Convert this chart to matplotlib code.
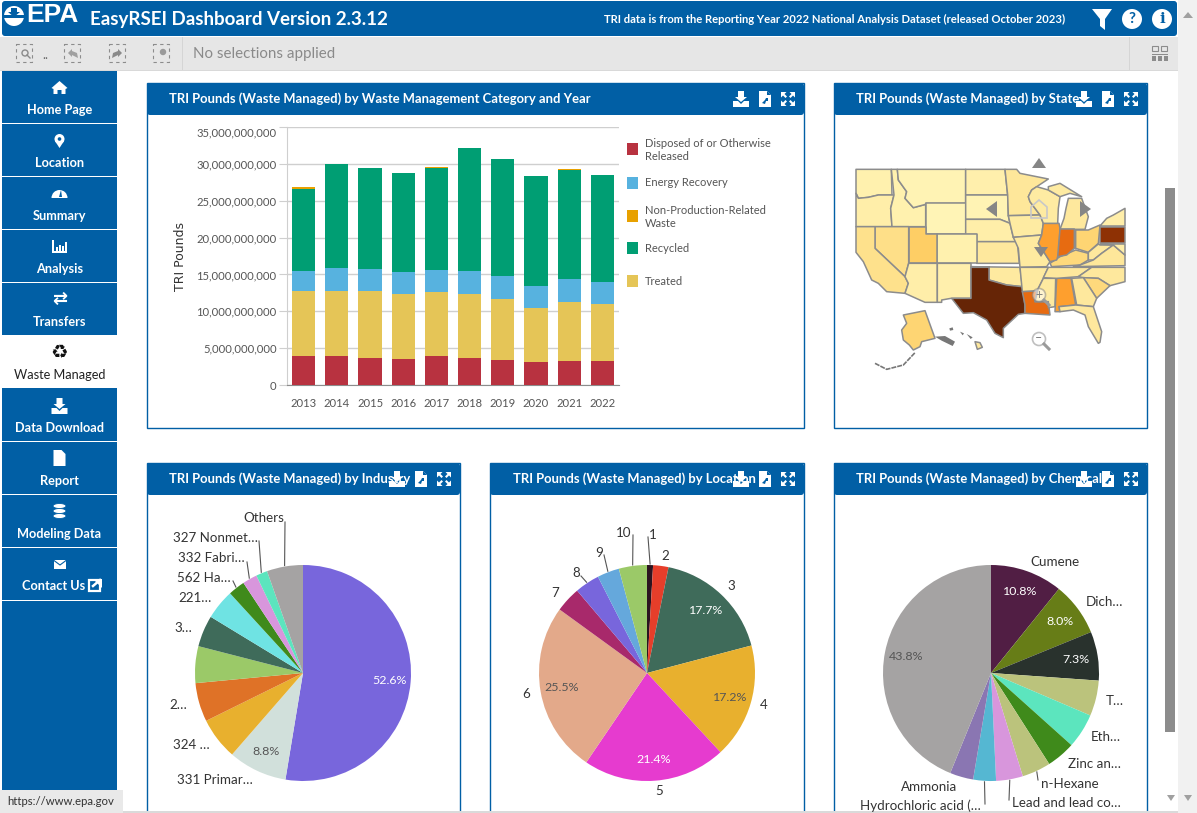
import numpy as np
import matplotlib
matplotlib.use("Agg")
import matplotlib.pyplot as plt
from matplotlib.patches import Rectangle, Polygon, Circle, FancyBboxPatch, Ellipse, Wedge
from matplotlib.colors import Normalize
from matplotlib.ticker import FuncFormatter
from matplotlib.transforms import ScaledTranslation

plt.rcParams['font.family'] = ['Lato', 'DejaVu Sans']

# ---------- data ----------
years = [2013, 2014, 2015, 2016, 2017, 2018, 2019, 2020, 2021, 2022]
disposed = [3.96, 3.96, 3.65, 3.56, 3.92, 3.69, 3.33, 3.06, 3.20, 3.24]
treated = [8.84, 8.74, 9.15, 8.78, 8.74, 8.70, 8.38, 7.44, 8.10, 7.80]
energy = [2.70, 3.16, 2.97, 2.96, 2.97, 3.11, 3.06, 2.92, 3.07, 2.96]
recycled = [11.10, 14.10, 13.63, 13.50, 13.83, 16.60, 15.83, 14.98, 14.83, 14.50]
nonprod = [0.25, 0.02, 0.02, 0.02, 0.08, 0.02, 0.06, 0.02, 0.06, 0.03]
bar_names = ["Disposed of or Otherwise\nReleased", "Energy Recovery",
             "Non-Production-Related\nWaste", "Recycled", "Treated"]

industry_values = [52.6, 8.8, 6.3, 5.8, 5.5, 4.7, 4.5, 2.5, 2.2, 1.7, 5.4]
location_values = [0.9, 2.3, 17.7, 17.2, 21.4, 25.5, 3.8, 3.7, 3.3, 4.2]
chemical_values = [10.8, 8.0, 7.3, 5.3, 5.2, 4.3, 4.3, 4.0, 3.4, 3.5, 43.8]

industry_labels = ["331 Primar…", "324 …", "2…", "3…", "221…", "562 Ha…",
                   "332 Fabri…", "327 Nonmet…", "Others"]
location_labels = ["1", "2", "3", "4", "5", "6", "7", "8", "9", "10"]
chemical_labels = ["Cumene", "Dich…", "T…", "Eth…", "Zinc an…", "n-Hexane",
                   "Lead and lead co…", "Hydrochloric acid (…", "Ammonia"]

# relative TRI pounds by state (billions, estimated from the shading)
state_pounds = {
    "WA": 1.0, "OR": 1.1, "ID": 1.0, "MT": .9, "WY": .85, "ND": 1.05, "SD": .9, "NE": 1.1, "KS": 1.3,
    "CO": 1.0, "UT": 2.0, "NV": 1.6, "CA": 1.55, "AZ": 1.1, "NM": 1.05, "OK": 1.25, "TX": 6.0, "MN": 1.35,
    "IA": 1.2, "MO": 1.25, "AR": 1.25, "LA": 3.85, "MS": 1.25, "AL": 2.9, "TN": 1.3, "KY": 1.75, "IL": 2.9,
    "WI": 1.2, "MI": 1.3, "MIU": 1.2, "IN": 3.85, "OH": 1.85, "PA": 5.4, "NY": 1.1, "WV": 1.3, "VA": 1.35,
    "NC": 1.3, "SC": 1.75, "GA": 1.3, "FL": 1.3, "MD": 1.1, "AK": 1.85, "HI": 1.3,
}

# simplified state outlines, in map units
state_shapes = {
    "WA": [(48,58),(154,58),(156,135),(115,135),(85,142),(55,145),(48,130)],
    "OR": [(48,130),(55,145),(85,142),(115,135),(162,135),(152,175),(156,230),(48,230)],
    "ID": [(154,58),(172,58),(175,90),(200,125),(195,145),(220,173),(257,163),(257,230),(156,230),(152,175),(162,135)],
    "MT": [(172,58),(377,58),(377,160),(257,160),(257,163),(220,173),(195,145),(200,125),(175,90)],
    "WY": [(257,160),(377,160),(377,253),(257,253)],
    "ND": [(377,58),(495,58),(503,135),(377,135)],
    "SD": [(377,135),(503,135),(505,197),(510,220),(480,208),(377,208)],
    "NE": [(377,208),(480,208),(510,220),(520,262),(532,275),(410,275),(410,253),(377,253)],
    "KS": [(410,275),(532,275),(538,340),(410,340)],
    "CO": [(292,253),(410,253),(410,340),(292,340)],
    "UT": [(206,230),(257,230),(257,253),(292,253),(292,340),(206,340)],
    "NV": [(105,230),(206,230),(206,340),(195,380),(105,295)],
    "CA": [(48,230),(105,230),(105,295),(195,380),(205,400),(195,430),(140,425),(115,400),(95,390),(70,335),(48,307)],
    "AZ": [(206,340),(292,340),(292,457),(255,457),(195,430),(205,400),(195,380)],
    "NM": [(292,340),(393,340),(393,445),(333,445),(305,450),(305,457),(292,457)],
    "OK": [(393,350),(540,352),(547,410),(500,405),(447,390),(447,352)],
    "TX": [(393,352),(447,352),(447,390),(500,405),(547,410),(555,465),(555,490),(535,493),(490,535),(490,563),
           (465,550),(440,510),(400,488),(370,490),(335,445),(393,445)],
    "MN": [(495,58),(530,58),(540,70),(625,87),(575,120),(565,140),(570,155),(600,195),(505,197),(503,135)],
    "IA": [(505,197),(600,195),(610,220),(605,255),(520,262),(510,220)],
    "MO": [(520,262),(605,255),(595,280),(630,335),(620,350),(540,352),(535,295)],
    "AR": [(540,352),(625,352),(610,385),(595,415),(590,423),(547,425)],
    "LA": [(547,425),(590,423),(585,455),(625,455),(630,495),(600,493),(555,490),(555,465)],
    "MS": [(610,385),(647,385),(645,470),(625,473),(625,455),(585,455),(595,415)],
    "AL": [(650,385),(693,385),(707,465),(657,470),(660,485),(645,485)],
    "TN": [(610,383),(625,352),(755,352),(715,380),(650,385)],
    "KY": [(630,340),(660,320),(707,300),(745,310),(745,330),(720,345),(635,350)],
    "IL": [(610,220),(657,220),(660,235),(657,307),(650,330),(630,335),(595,280),(605,255)],
    "WI": [(575,120),(590,110),(625,120),(660,140),(655,175),(653,220),(610,220),(600,195),(570,155),(565,140)],
    "MI": [(685,145),(725,145),(745,200),(735,238),(660,238),(672,205),(678,175)],
    "MIU": [(625,110),(660,100),(725,140),(690,130),(660,140),(625,120)],
    "IN": [(660,237),(703,237),(703,295),(680,315),(653,320)],
    "OH": [(707,240),(745,240),(780,225),(775,280),(745,307),(707,295)],
    "NY": [(780,228),(800,205),(820,195),(855,175),(855,228)],
    "PA": [(780,230),(855,230),(855,280),(780,280)],
    "WV": [(745,307),(775,282),(780,285),(820,285),(785,310),(760,330),(745,330)],
    "VA": [(720,345),(760,330),(785,310),(820,285),(855,315),(855,347),(700,350)],
    "MD": [(780,282),(855,282),(855,315),(820,285)],
    "NC": [(755,352),(855,352),(855,395),(810,407),(775,385),(730,383),(715,380)],
    "SC": [(730,383),(775,385),(810,407),(770,445)],
    "GA": [(695,385),(730,383),(770,445),(760,470),(710,465)],
    "FL": [(657,470),(707,465),(760,470),(785,545),(780,577),(775,580),(745,530),(735,495),(700,480),(660,485)],
    "AK": [(190,495),(255,482),(285,565),(245,575),(240,590),(220,600),(208,585),(190,570),(185,540),(200,520)],
    "HI": [(405,575),(420,578),(427,592),(412,598)],
}

# ---------- styles ----------
W, H = 1197, 813
BLUE = "#015FA5"
TEXT = "#555555"
DARK = "#333333"
bar_colors = ["#B83240", "#57B2DF", "#E8A100", "#009E73", "#E5C557"]
industry_colors = ["#7866DC", "#D1E0DB", "#E8B02E", "#DF7227", "#9BC968", "#3F6B5A",
                   "#6FE3E3", "#3F8A1B", "#D896DC", "#5CE5BE", "#A5A3A3"]
location_colors = ["#2B1420", "#E63E2A", "#3F6B5A", "#E8B02E", "#E63BCF",
                   "#E3A98A", "#A8296B", "#7866DC", "#65A8DC", "#9BC968"]
chemical_colors = ["#511E44", "#677D17", "#29322D", "#BBC37C", "#5CE5BE", "#3F8A1B",
                   "#BBC37C", "#D896DC", "#55B7D2", "#8A76B2", "#A5A3A3"]

fig = plt.figure(figsize=(W / 100, H / 100), dpi=100, facecolor="white")


def px_axes(x0, y0, x1, y1, z=1):
    return fig.add_axes([x0 / W, 1 - y1 / H, (x1 - x0) / W, (y1 - y0) / H], zorder=z)


ui = px_axes(0, 0, W, H, 0)
top = px_axes(0, 0, W, H, 10)
for a in (ui, top):
    a.set_xlim(0, W)
    a.set_ylim(H, 0)
    a.axis("off")
    a.patch.set_alpha(0)


def rect(a, x0, y0, x1, y1, c, **k):
    a.add_patch(Rectangle((x0, y0), x1 - x0, y1 - y0, fc=c, ec="none", **k))


def poly(a, pts, c, **k):
    a.add_patch(Polygon(pts, closed=True, fc=c, ec="none", **k))


def shift(pts, x, y, s=1.0):
    return [(x + s * p[0], y + s * p[1]) for p in pts]


# ---------- page chrome ----------
rect(ui, 1178, 0, W, H, "#F1F1F1")
rect(ui, 0, 37, 1178, 70, "#E6E6E6")
rect(ui, 0, 70, 1178, 71, "#D9D9D9")
ui.add_patch(FancyBboxPatch((2, 1), 1175, 35, boxstyle="round,pad=0,rounding_size=3", fc=BLUE, ec="none"))
rect(ui, 182, 37, 183, 70, "#D5D5D5")
rect(ui, 1129, 37, 1130, 70, "#D5D5D5")
ui.text(90, 20, "EasyRSEI Dashboard Version 2.3.12", color="white", fontsize=13.5, weight="bold", va="center")
ui.text(604, 19, "TRI data is from the Reporting Year 2022 National Analysis Dataset (released October 2023)",
        color="white", fontsize=8.13, weight="bold", va="center")
ui.text(193, 54, "No selections applied", color="#8A8A8A", fontsize=10.9, va="center")

# EPA logo
ui.text(26, 15, "EPA", color="white", fontsize=19, weight="bold", va="center",
        family=["Liberation Sans Narrow", "Liberation Sans"])
ui.add_patch(Circle((14, 16), 10, fc="white", ec="none"))
poly(ui, [(4, 15), (24, 15), (24, 18), (4, 18)], BLUE)
poly(ui, [(11, 8), (17, 8), (17, 12), (20, 12), (14, 17), (8, 12), (11, 12)], BLUE)

# header right icons
poly(ui, [(1092, 9), (1112, 9), (1105, 19), (1105, 30), (1100, 26), (1100, 19)], "white")
ui.add_patch(Circle((1132, 19), 10, fc="white", ec="none"))
ui.text(1132, 19, "?", color=BLUE, fontsize=11, weight="bold", ha="center", va="center")
ui.add_patch(Circle((1162, 19), 10, fc="white", ec="none"))
ui.text(1162, 19, "i", color=BLUE, fontsize=11, weight="bold", ha="center", va="center", family="DejaVu Serif")
poly(ui, [(1188, 12), (1193, 18), (1183, 18)], "#A0A0A0")
poly(ui, [(1184, 795), (1192, 795), (1188, 801)], "#A0A0A0")
poly(ui, [(1167, 795), (1175, 795), (1171, 801)], "#A0A0A0")
rect(ui, 1165, 188, 1175, 732, "#8C8C8C")

# toolbar icons
for cx in (24, 72, 117, 161):
    ui.add_patch(Rectangle((cx - 8, 44), 16, 18, fc="none", ec="#8C8C8C", lw=0.8, ls=(0, (3, 3))))
ui.add_patch(Circle((25, 53), 3, fc="none", ec="#8A8A8A", lw=1))
ui.plot([27, 30], [55, 58], color="#8A8A8A", lw=1)
poly(ui, [(68, 53), (72, 49), (72, 51), (77, 53), (78, 58), (72, 55), (72, 57)], "#A0A0A0")
poly(ui, [(122, 53), (118, 49), (118, 51), (113, 53), (112, 58), (118, 55), (118, 57)], "#8A8A8A")
ui.add_patch(Circle((163, 52), 3.2, fc="#9A9A9A", ec="none"))
ui.text(45, 55, "..", color="#666666", fontsize=9, ha="center", va="center")
for i in range(2):
    ui.add_patch(Rectangle((1152 + i * 9, 46), 6, 5, fc="none", ec="#8C8C8C", lw=0.8))
rect(ui, 1152, 54, 1168, 55, "#8C8C8C")
for i in range(3):
    rect(ui, 1152 + i * 6, 56, 1156 + i * 6, 61, "#8C8C8C")

# sidebar
rect(ui, 2, 71, 117, H, BLUE)
side_items = [("Home Page", 88, 110), ("Location", 142, 163), ("Summary", 195, 216), ("Analysis", 248, 269),
              ("Transfers", 301, 322), ("Waste Managed", 353, 375), ("Data Download", 406, 428),
              ("Report", 459, 481), ("Modeling Data", 512, 534), ("Contact Us", 565, 586)]
rect(ui, 2, 335, 117, 388, "white")
for y in (123, 176, 229, 282, 441, 494, 547, 600):
    rect(ui, 2, y, 117, y + 1, "white")
for name, iy, ty in side_items:
    c = "#222222" if name == "Waste Managed" else "white"
    tx = 54 if name == "Contact Us" else 59.5
    ui.text(tx, ty, name, color=c, fontsize=9.2, weight="bold" if c == "white" else "normal", ha="center", va="center")


def icon_download(a, x, y, c="white", s=1.0):
    poly(a, shift([(-3, -8), (3, -8), (3, -2), (6, -2), (0, 3), (-6, -2), (-3, -2)], x, y, s), c)
    poly(a, shift([(-8, 2), (-3, 2), (0, 5), (3, 2), (8, 2), (8, 8), (-8, 8)], x, y, s), c)


def icon_file(a, x, y, c="white", bg=BLUE):
    poly(a, shift([(-6, -8), (2, -8), (6, -4), (6, 8), (-6, 8)], x, y), c)
    poly(a, shift([(2, -8), (2, -4), (6, -4)], x, y), bg)
    poly(a, shift([(-3, 4), (0, 1), (1, -1), (3, -1), (3, 2), (1, 2), (0, 5)], x, y), bg)


def icon_expand(a, x, y, c="white"):
    for sx in (-1, 1):
        for sy in (-1, 1):
            poly(a, [(x + sx * 7, y + sy * 7), (x + sx * 1.5, y + sy * 7), (x + sx * 3.5, y + sy * 5),
                     (x + sx * 1, y + sy * 2.5), (x + sx * 2.5, y + sy * 1), (x + sx * 5, y + sy * 3.5),
                     (x + sx * 7, y + sy * 1.5)], c)


# home
poly(ui, shift([(-8, 1), (0, -6), (8, 1), (6, 2), (6, 7), (2, 7), (2, 3), (-2, 3), (-2, 7), (-6, 7), (-6, 2)], 59.5, 87), "white")
# pin
ui.add_patch(Circle((59.5, 139), 5, fc="white", ec="none"))
poly(ui, [(55, 141), (64, 141), (59.5, 148)], "white")
ui.add_patch(Circle((59.5, 139), 1.8, fc=BLUE, ec="none"))
# gauge
ui.add_patch(Wedge((59.5, 198), 8, 180, 360, fc="white", ec="none"))
poly(ui, [(59, 197), (61, 190), (62, 197)], BLUE)
# bars
rect(ui, 52, 251, 67, 252.5, "white")
rect(ui, 52, 240, 53.5, 252, "white")
for dx, h0 in ((4, 247), (7, 245), (10, 246), (13, 242)):
    rect(ui, 52 + dx, h0, 54 + dx, 251, "white")
# arrows
ui.text(59.5, 299, "⇄", color="white", fontsize=13, ha="center", va="center", family="DejaVu Sans", weight="bold")
# recycle
ui.text(59.5, 352, "♻", color="#111111", fontsize=14, ha="center", va="center", family="DejaVu Sans")
icon_download(ui, 59.5, 406)
poly(ui, shift([(-6, -8), (2, -8), (6, -4), (6, 8), (-6, 8)], 59.5, 458), "white")
for k in range(3):
    ui.add_patch(Ellipse((59.5, 506 + k * 5), 13, 5, fc="white", ec=BLUE, lw=0.6))
rect(ui, 54, 560, 66, 569, "white")
ui.plot([54, 60, 66], [560.5, 565, 560.5], color=BLUE, lw=0.8)
ui.add_patch(Rectangle((88.5, 580), 11, 11, fc="none", ec="white", lw=1.6))
poly(ui, [(93, 579), (102, 579), (102, 588)], "white")
ui.plot([93, 100], [586, 580], color="white", lw=1.8)

# tooltip bottom-left
rect(ui, 0, 790, 123, H, "#E9E9E9")
ui.text(7, 801, "https://www.epa.gov", color="#333333", fontsize=8.2, va="center")

# panels
panels = [(147, 83, 804, 428, "TRI Pounds (Waste Managed) by Waste Management Category and Year", 169),
          (834, 83, 1147, 428, "TRI Pounds (Waste Managed) by State", 856),
          (147, 463, 460, 830, "TRI Pounds (Waste Managed) by Industry", 169),
          (490, 463, 804, 830, "TRI Pounds (Waste Managed) by Location", 513),
          (834, 463, 1147, 830, "TRI Pounds (Waste Managed) by Chemical", 856)]
for x0, y0, x1, y1, title, tx in panels:
    ui.add_patch(Rectangle((x0, y0), x1 - x0, y1 - y0, fc="white", ec=BLUE, lw=1.0))
    ui.add_patch(FancyBboxPatch((x0, y0), x1 - x0, 32, boxstyle="round,pad=0,rounding_size=3", fc=BLUE, ec="none"))
    ui.text(tx, y0 + 16, title, color="white", fontsize=9.34, weight="bold", va="center")
    icon_download(top, x1 - 63, y0 + 16)
    icon_file(top, x1 - 39, y0 + 16)
    icon_expand(top, x1 - 16, y0 + 16)

# ---------- stacked bars ----------
ax = px_axes(287, 127, 619, 385, 2)
ax.patch.set_alpha(0)
xpos = np.arange(len(years))
stack_order = [("disposed", disposed, 0), ("treated", treated, 4), ("energy", energy, 1),
               ("recycled", recycled, 3), ("nonprod", nonprod, 2)]
base = np.zeros(len(years))
for _, vals, ci in stack_order:
    vals = np.array(vals)
    ax.bar(xpos, vals, bottom=base, width=0.7, color=bar_colors[ci], linewidth=0, zorder=3)
    base += vals
ax.set_xlim(-0.5, 9.5)
ax.set_ylim(0, 35)
ax.set_yticks(np.arange(0, 36, 5))
ax.yaxis.set_major_formatter(FuncFormatter(lambda v, _: f"{int(round(v * 1e9)):,}"))
ax.set_xticks(xpos, [str(y) for y in years])
ax.grid(axis="y", color="#CFCFCF", lw=1, zorder=0)
ax.set_axisbelow(True)
for s in ("top", "right"):
    ax.spines[s].set_visible(False)
ax.spines["left"].set_color("#CFCFCF")
ax.spines["bottom"].set_color("#8C8C8C")
ax.tick_params(axis="y", length=6, color="#CFCFCF", labelsize=8.1, labelcolor=TEXT, pad=1.5)
ax.tick_params(axis="x", length=0, labelsize=8.1, labelcolor=TEXT, pad=9)
for lab in ax.get_yticklabels()[-1:]:
    lab.set_transform(lab.get_transform() + ScaledTranslation(0, -5 / 100, fig.dpi_scale_trans))
ui.text(180, 256, "TRI Pounds", color=DARK, fontsize=9, rotation=90, ha="center", va="center", family="DejaVu Sans")

legend_y = [149, 183, 216, 248, 281]
for name, y, c in zip(bar_names, legend_y, bar_colors):
    rect(ui, 627, y - 6, 638, y + 6, c)
    ui.text(645, y + (1 if "\n" in name else 0), name, color=TEXT, fontsize=8.05, va="center", linespacing=1.25)

# ---------- state map ----------
m = px_axes(840, 150, 1140, 390, 2)
m.set_xlim(0, 900)
m.set_ylim(720, 0)
m.axis("off")
norm = Normalize(0, 6)
cmap = plt.get_cmap("YlOrBr")
for st, shape in state_shapes.items():
    m.add_patch(Polygon(shape, closed=True, fc=cmap(norm(state_pounds[st])), ec="#8C8C8C", lw=1.1, joinstyle="round"))
for shape in ([(285, 560), (315, 558), (345, 575), (338, 588), (305, 572)], [(328, 535), (338, 532), (340, 540), (330, 542)],
              [(360, 545), (372, 550), (368, 556)], [(380, 552), (398, 562), (392, 567)]):
    m.add_patch(Polygon(shape, closed=True, fc="#777777", ec="none"))
m.plot([105, 140, 190, 225], [640, 658, 645, 608], color="#777777", lw=1.2, ls=(0, (3, 0.6)))

# map controls
poly(top, [(1039, 158), (1046, 168), (1032, 168)], "#868686")
poly(top, [(986, 209), (997, 201), (997, 217)], "#868686")
poly(top, [(1091, 209), (1080, 201), (1080, 217)], "#868686")
poly(top, [(1041, 257), (1034, 247), (1048, 247)], "#868686")
top.add_patch(Polygon([(1031, 207), (1039, 200), (1047, 207), (1047, 218), (1031, 218)], closed=True, fc="none", ec="#C8C8C8", lw=1.2))
for cy, sym in ((295, "+"), (339, "–")):
    top.add_patch(Circle((1039, cy), 6.5, fc="white", ec="#808080", lw=1.2, alpha=0.5))
    top.plot([1044, 1049], [cy + 5, cy + 10], color="#9A9A9A", lw=2.2)
    top.text(1039, cy - 0.5, sym, color="#808080", fontsize=9, ha="center", va="center")


# ---------- pies ----------
def draw_pie(values, colors, cx, cy, r=108):
    a = px_axes(cx - r, cy - r, cx + r, cy + r, 2)
    a.axis("off")

    def fmt(p):
        return f"{p:.1f}%" if p > 7 else ""

    wedges, _, autos = a.pie(values, colors=colors, startangle=90, counterclock=False, radius=1,
                             autopct=fmt, pctdistance=0.8, wedgeprops={"linewidth": 0},
                             textprops={"fontsize": 8.9})
    a.set_xlim(-1, 1)
    a.set_ylim(-1, 1)
    for t, w in zip(autos, wedges):
        fc = w.get_facecolor()
        lum = 0.299 * fc[0] + 0.587 * fc[1] + 0.114 * fc[2]
        t.set_color("#555555" if lum > 0.6 else "white")
    return a


draw_pie(industry_values, industry_colors, 303, 673)
draw_pie(location_values, location_colors, 647, 673)
draw_pie(chemical_values, chemical_colors, 991, 673)


def rim(values, idx, cx, cy, r=109):
    vals = np.array(values, float)
    ang = (vals[:idx].sum() + vals[idx] / 2) / vals.sum() * 2 * np.pi
    return cx + r * np.sin(ang), cy - r * np.cos(ang)


def leader(values, idx, cx, cy, ex, ey):
    x, y = rim(values, idx, cx, cy)
    top.plot([x, ex], [y, ey], color="#555555", lw=0.8)


label_left = [177, 173, 169, 174, 178, 177, 178, 173, 243]
label_y = [780, 745, 705, 628, 598, 578, 558, 538, 518]
for t, x, y in zip(industry_labels, label_left, label_y):
    top.text(x, y, t, color=DARK, fontsize=9.6, va="center")
for i, ex, ey in ((10, 285, 522), (9, 259, 541), (8, 247, 562), (7, 233, 581)):
    leader(industry_values, i, 303, 673, ex, ey)

loc_x = [653, 665, 731, 764, 659, 526, 555, 576, 599, 624]
loc_y = [535, 556, 586, 705, 791, 694, 593, 573, 553, 533]
for t, x, y in zip(location_labels, loc_x, loc_y):
    top.text(x, y, t, color=DARK, fontsize=9.6, ha="center", va="center")
for i, ex, ey in ((0, 648, 537), (9, 633, 535), (8, 604, 555), (7, 581, 576)):
    leader(location_values, i, 647, 673, ex, ey)

chem_x = [1030, 1086, 1106, 1091, 1068, 1041, 1012, 860, 901]
chem_y = [562, 602, 701, 737, 764, 784, 803, 806, 787]
for t, x, y in zip(chemical_labels, chem_x, chem_y):
    top.text(x, y, t, color=DARK, fontsize=9.6, va="center")
for i, ex, ey in ((6, 1038, 780), (7, 1009, 800), (8, 985, 804)):
    leader(chemical_values, i, 991, 673, ex, ey)

# window bottom edge
rect(top, 123, 811, 1178, H, "#DADADA")

fig.savefig("out.png", dpi=100)
